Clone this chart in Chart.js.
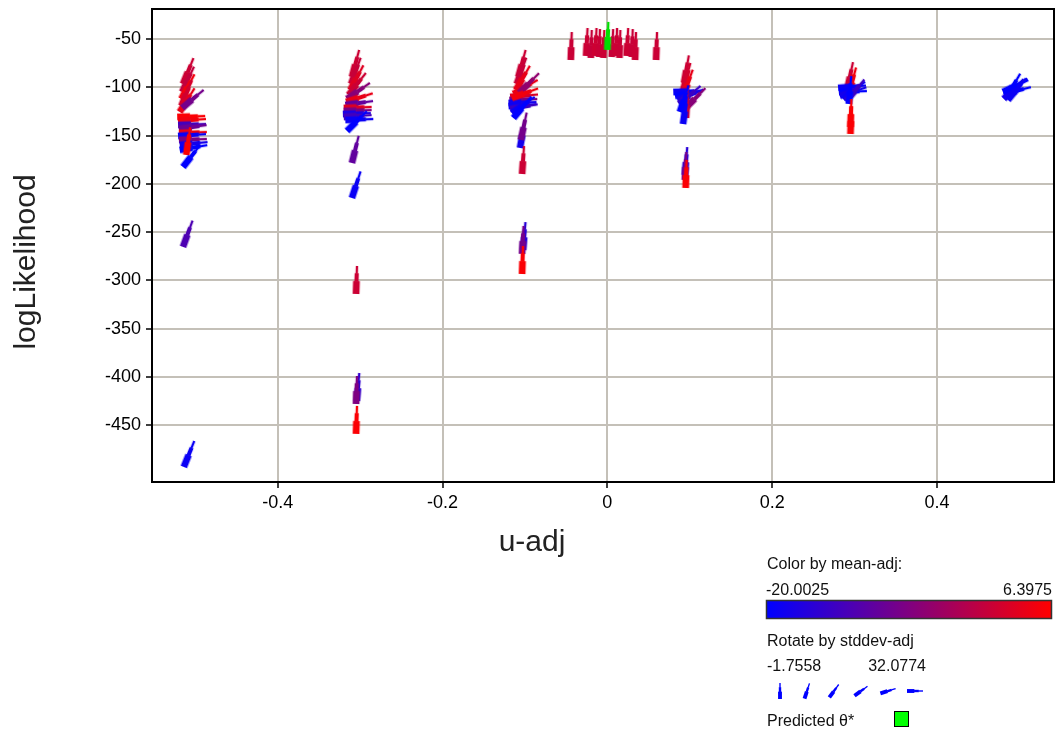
<!DOCTYPE html>
<html>
<head>
<meta charset="utf-8">
<title>logLikelihood vs u-adj</title>
<script src="https://cdn.jsdelivr.net/npm/chart.js@4.4.0/dist/chart.umd.min.js"></script>
<style>
  html, body { margin: 0; padding: 0; background: #fff; }
  canvas { display: block; }
</style>
</head>
<body>
<canvas id="glyphChart" width="1060" height="734"></canvas>
<script>
// samples: position (u-adj, logLikelihood), colour from mean-adj, rotation from stddev-adj
const uAdj = [
  -0.515, -0.516, -0.517, -0.517, -0.519, -0.516, -0.522, -0.521, -0.521, -0.520,
  -0.520, -0.521, -0.520, -0.519, -0.519, -0.511, -0.515, -0.515, -0.514,
  -0.310, -0.311, -0.312, -0.314, -0.316, -0.317, -0.318, -0.320, -0.320, -0.321,
  -0.320, -0.318, -0.316, -0.310, -0.310, -0.305, -0.304, -0.305, -0.305,
  -0.108, -0.110, -0.111, -0.114, -0.118, -0.119, -0.120, -0.120, -0.118, -0.116,
  -0.114, -0.107, -0.116, -0.106, -0.105, -0.1035, -0.1023, -0.1035, -0.1035,
  0.093, 0.092, 0.092, 0.080, 0.082, 0.085, 0.087, 0.095, 0.0955, 0.0918,
  0.088, 0.094, 0.094, 0.095,
  0.291, 0.293, 0.280, 0.281, 0.282, 0.286, 0.290, 0.293, 0.295, 0.295,
  0.484, 0.483, 0.481, 0.481, 0.480, 0.486,
  -0.0444, -0.0258, -0.0201, -0.0149, -0.0101, -0.0049, 0.0053, 0.0106, 0.0146, 0.0235,
  0.0296, 0.0336, 0.0591
];
const logLik = [
  -96.4, -104.7, -111.9, -119.2, -125.4, -121.2, -130.6, -134.7, -138.9, -143.0,
  -147.2, -150.3, -154.4, -159.6, -164.8, -170.0, -182.5, -265.3, -493.5,
  -89.1, -96.4, -102.6, -107.8, -111.9, -115.0, -118.1, -121.2, -124.4, -127.5,
  -130.6, -133.7, -145.1, -178.3, -214.6, -314.1, -425.0, -428.2, -459.2,
  -89.1, -96.4, -102.6, -106.7, -109.8, -113.0, -116.1, -119.3, -122.4, -126.5,
  -131.7, -105.7, -110.9, -162.7, -154.4, -189.7, -268.5, -272.6, -293.4,
  -95.3, -102.6, -108.8, -104.7, -108.8, -113.0, -117.1, -121.2, -131.6, -137.9,
  -125.4, -190.7, -195.9, -204.2,
  -102.1, -107.3, -100.5, -104.7, -108.8, -111.9, -114.0, -117.1, -141.0, -148.2,
  -110.8, -108.8, -106.7, -111.9, -104.6, -112.9,
  -71.5, -67.3, -69.4, -67.3, -68.4, -69.4, -68.4, -67.3, -69.4, -67.3,
  -68.4, -71.5, -71.5
];
const meanAdj = [
  1, 0, 5, 1.5, 4, -8, 6, 5, -13, -9,
  5, -19, -7, -18, -20, 6, -20, -12, -19,
  1, 0.5, 3, 1, -6, 4, -10, 3, -7, -17,
  -13, -19, -20, -10, -19, 1, -15, -7, 6,
  1, 0.5, 4, 4.5, 2.5, -7, -18, -19, -14, -19,
  -20, -5, 5, -18, -8, 1, -16, -8, 6,
  1, 1.5, 4, -19, -20, -18, -14, -6, 1, -19,
  -20, -16, -8, 6,
  1, 5, -19, -20, -18, -19, -14, -20, 6, 6,
  -20, -19, -20, -18, -20, -19,
  0.8, 1, 0.5, 1.2, 0.8, 1, 0.6, 1, 0.8, 1.1,
  0.7, 1, 0.9
];
const stddevAdj = [
  6.51, 7.64, 8.77, 6.51, 10.27, 17.04, 31.33, 30.57, 31.33, 29.07,
  31.33, 30.57, 31.33, 29.82, 28.32, 1.25, 12.53, 5.76, 6.51,
  3.88, 5.76, 8.77, 12.53, 18.92, 25.31, 29.07, 31.33, 31.33, 31.33,
  30.57, 31.33, 15.16, 3.51, 5.01, -1.00, 0.12, -1.00, -1.00,
  3.88, 5.76, 9.52, 20.80, 30.20, 31.33, 31.33, 30.57, 28.32, 18.92,
  13.28, 15.16, 24.56, 2.00, 2.76, -0.25, 0.12, -0.63, -1.00,
  2.00, 3.88, 5.76, 31.33, 28.32, 23.81, 17.04, 15.16, -0.63, 1.25,
  5.01, 0.12, -0.63, -1.00,
  2.76, 3.88, 30.20, 31.33, 25.31, 17.79, 13.28, 0.12, -1.00, -1.00,
  9.52, 17.41, 26.81, 15.16, 22.68, 13.28,
  -1.00, -0.63, -1.00, -0.63, -1.00, -1.00, -0.63, -1.00, -1.00, -0.63,
  -1.00, -1.00, -1.00
];

const predictedU = [0];
const predictedLogLik = [-61];

const xTicks = [-0.4, -0.2, 0, 0.2, 0.4];
const yTicks = [-450, -400, -350, -300, -250, -200, -150, -100, -50];

const meanRange = [-20.0025, 6.3975];
const stddevRange = [-1.7558, 32.0774];

const FONT = '"Liberation Sans", Arial, sans-serif';
const gridColor = 'rgb(196,192,184)';

function unit(v, range) {
  return Math.min(1, Math.max(0, (v - range[0]) / (range[1] - range[0])));
}

// blue -> red ramp
function meanColor(m) {
  const t = unit(m, meanRange);
  return 'rgb(' + Math.round(255 * t) + ',0,' + Math.round(255 * (1 - t)) + ')';
}

// 0 deg = pointing up, 90 deg = pointing right
function stddevAngle(s) {
  return 90 * unit(s, stddevRange);
}

// needle from the origin upwards: wide foot, narrower body, thin tip
function drawNeedle(g, len, color) {
  const k = len / 28;
  g.fillStyle = color;
  g.fillRect(-3.4 * k, -0.46 * len, 6.8 * k, 0.46 * len);
  g.fillRect(-2.1 * k, -0.74 * len, 4.2 * k, 0.3 * len);
  g.fillRect(-1.2 * k, -len, 2.4 * k, 0.28 * len);
}

const glyphCache = {};
function glyphImage(color) {
  if (!glyphCache[color]) {
    const c = document.createElement('canvas');
    c.width = c.height = 64;
    const g = c.getContext('2d');
    g.translate(32, 32);
    drawNeedle(g, 28, color);
    glyphCache[color] = c;
  }
  return glyphCache[color];
}

const extras = {
  id: 'extras',
  beforeDraw(chart) {
    const ctx = chart.ctx;
    ctx.save();
    ctx.fillStyle = '#fff';
    ctx.fillRect(0, 0, chart.width, chart.height);
    ctx.restore();
  },
  afterDraw(chart) {
    const ctx = chart.ctx;
    const a = chart.chartArea;
    ctx.save();
    ctx.strokeStyle = '#000';
    ctx.lineWidth = 2;
    ctx.strokeRect(a.left, a.top, a.right - a.left, a.bottom - a.top);

    // axis titles
    ctx.fillStyle = '#222';
    ctx.font = '30px ' + FONT;
    ctx.textAlign = 'center';
    ctx.textBaseline = 'middle';
    ctx.fillText('u-adj', 532, 543);
    ctx.save();
    ctx.translate(27, 262);
    ctx.rotate(-Math.PI / 2);
    ctx.fillText('logLikelihood', 0, 0);
    ctx.restore();

    // colour / rotation key
    ctx.fillStyle = '#111';
    ctx.font = '16px ' + FONT;
    ctx.textBaseline = 'alphabetic';
    ctx.textAlign = 'left';
    ctx.fillText('Color by mean-adj:', 767, 569);
    ctx.fillText(String(meanRange[0]), 766, 595);
    ctx.textAlign = 'right';
    ctx.fillText(String(meanRange[1]), 1052, 595);

    const grad = ctx.createLinearGradient(767, 0, 1051, 0);
    for (let k = 0; k <= 10; k++) {
      const m = meanRange[0] + k / 10 * (meanRange[1] - meanRange[0]);
      grad.addColorStop(k / 10, meanColor(m));
    }
    ctx.fillStyle = grad;
    ctx.fillRect(767, 601, 284, 17);
    ctx.strokeStyle = '#333';
    ctx.lineWidth = 1.5;
    ctx.strokeRect(766.5, 600.5, 285, 18);

    ctx.fillStyle = '#111';
    ctx.textAlign = 'left';
    ctx.fillText('Rotate by stddev-adj', 767, 646);
    ctx.fillText(String(stddevRange[0]), 767, 671);
    ctx.textAlign = 'right';
    ctx.fillText(String(stddevRange[1]), 926, 671);

    for (let k = 0; k < 6; k++) {
      const s = stddevRange[0] + k / 5 * (stddevRange[1] - stddevRange[0]);
      ctx.save();
      ctx.translate(780 + k * 27, 691);
      ctx.rotate(stddevAngle(s) * Math.PI / 180);
      ctx.translate(0, 8);
      drawNeedle(ctx, 16, '#0000ff');
      ctx.restore();
    }

    ctx.textAlign = 'left';
    ctx.fillText('Predicted \u03b8*', 767, 726);
    ctx.fillStyle = '#00ff00';
    ctx.fillRect(894, 711, 14, 15);
    ctx.strokeStyle = '#000';
    ctx.lineWidth = 1;
    ctx.strokeRect(894.5, 711.5, 14, 15);
    ctx.restore();
  }
};

new Chart(document.getElementById('glyphChart'), {
  type: 'scatter',
  data: {
    datasets: [
      {
        label: 'Predicted',
        data: predictedU.map((u, i) => ({ x: u, y: predictedLogLik[i] })),
        pointStyle: glyphImage('#00e000'),
        rotation: 2,
        pointRadius: 3,
        clip: false
      },
      {
        label: 'samples',
        data: uAdj.map((u, i) => ({ x: u, y: logLik[i] })),
        pointStyle: ctx => ctx.type === 'data' ? glyphImage(meanColor(meanAdj[ctx.dataIndex])) : 'circle',
        rotation: ctx => ctx.type === 'data' ? stddevAngle(stddevAdj[ctx.dataIndex]) : 0,
        pointRadius: 3,
        clip: false
      }
    ]
  },
  options: {
    responsive: false,
    devicePixelRatio: 1,
    animation: false,
    events: [],
    layout: { padding: { top: 9, right: 6, left: 0, bottom: 0 } },
    plugins: { legend: { display: false }, tooltip: { enabled: false } },
    scales: {
      x: {
        type: 'linear',
        min: -0.5526,
        max: 0.542,
        afterBuildTicks: s => { s.ticks = xTicks.map(v => ({ value: v })); },
        afterFit: s => { s.height = 252; s.paddingLeft = 0; s.paddingRight = 0; },
        ticks: {
          callback: v => v === 0 ? '0' : v.toFixed(1),
          font: { family: FONT, size: 18 },
          color: '#000',
          padding: 4,
          maxRotation: 0,
          autoSkip: false
        },
        grid: { color: gridColor, lineWidth: 2, tickColor: '#000', tickLength: 6, tickWidth: 1.5 },
        border: { color: '#000', width: 2 }
      },
      y: {
        type: 'linear',
        min: -509.1,
        max: -18.6,
        afterBuildTicks: s => { s.ticks = yTicks.map(v => ({ value: v })); },
        afterFit: s => { s.width = 152; s.paddingTop = 0; s.paddingBottom = 0; },
        ticks: {
          callback: v => String(v),
          font: { family: FONT, size: 18 },
          color: '#000',
          padding: 5,
          autoSkip: false
        },
        grid: { color: gridColor, lineWidth: 2, tickColor: '#000', tickLength: 6, tickWidth: 1.5 },
        border: { color: '#000', width: 2 }
      }
    }
  },
  plugins: [extras]
});
</script>
</body>
</html>
